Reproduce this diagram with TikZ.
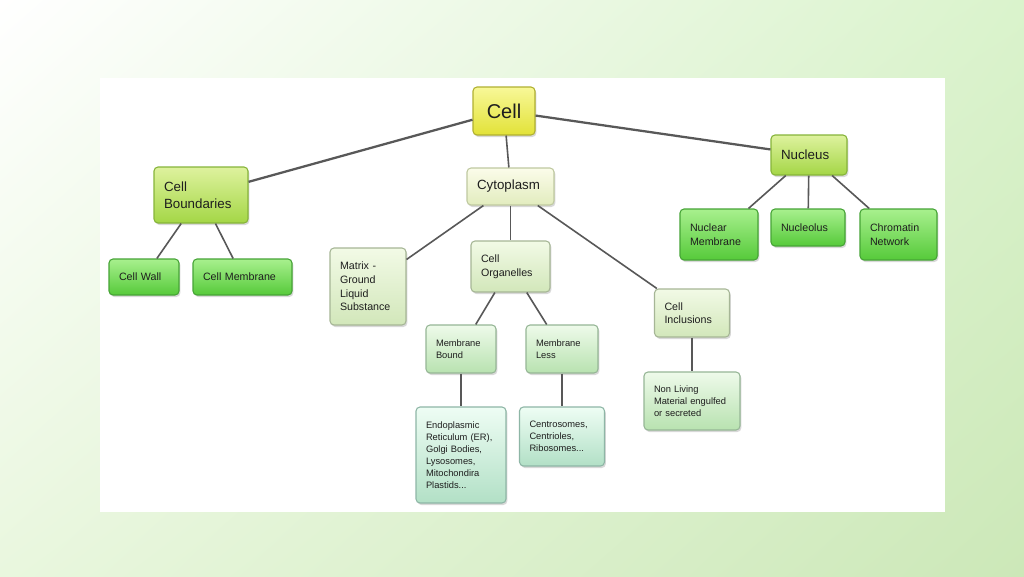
\documentclass[tikz,border=0pt]{standalone}
\usepackage{fontspec}
\setmainfont{Liberation Sans}
\usetikzlibrary{shadows,shadings}
\definecolor{txt}{HTML}{1E1E1E}
\definecolor{edge}{HTML}{585858}
\definecolor{bgA}{HTML}{FFFFFF}
\definecolor{bgB}{HTML}{DAF3CC}
\definecolor{bgC}{HTML}{E9F7DE}
\definecolor{bgD}{HTML}{CCE8B8}
\definecolor{yelT}{HTML}{F8F898}
\definecolor{yelB}{HTML}{E2E238}
\definecolor{yelD}{HTML}{B0B030}
\definecolor{ygT}{HTML}{DEF29E}
\definecolor{ygB}{HTML}{A4D646}
\definecolor{ygD}{HTML}{86B43A}
\definecolor{cyT}{HTML}{FBFCEA}
\definecolor{cyB}{HTML}{E2ECBE}
\definecolor{cyD}{HTML}{BFC9A0}
\definecolor{brT}{HTML}{A8F08E}
\definecolor{brB}{HTML}{56CA3A}
\definecolor{brD}{HTML}{46A436}
\definecolor{pgT}{HTML}{F2FAE6}
\definecolor{pgB}{HTML}{D2E7BA}
\definecolor{pgD}{HTML}{A6B696}
\definecolor{mgT}{HTML}{EEFAEA}
\definecolor{mgB}{HTML}{B8E2B0}
\definecolor{mgD}{HTML}{96B696}
\definecolor{mnT}{HTML}{EEFDF4}
\definecolor{mnB}{HTML}{B2E0C6}
\definecolor{mnD}{HTML}{8EB6A6}
\tikzset{
  bx/.style={rounded corners=3pt, draw, line width=0.8pt, align=left,
    inner xsep=7.5pt, inner ysep=0pt, text=txt,
    drop shadow={shadow xshift=1pt, shadow yshift=-1.5pt, opacity=0.3}},
  yel/.style={bx, top color=yelT, bottom color=yelB, draw=yelD},
  yg/.style={bx, top color=ygT, bottom color=ygB, draw=ygD},
  cy/.style={bx, top color=cyT, bottom color=cyB, draw=cyD},
  br/.style={bx, top color=brT, bottom color=brB, draw=brD},
  pg/.style={bx, top color=pgT, bottom color=pgB, draw=pgD},
  mg/.style={bx, top color=mgT, bottom color=mgB, draw=mgD},
  mn/.style={bx, top color=mnT, bottom color=mnB, draw=mnD},
  fa/.style={font=\fontsize{10pt}{12.75pt}\selectfont},
  fb/.style={font=\fontsize{8pt}{10.2pt}\selectfont},
  fc/.style={font=\fontsize{7pt}{9pt}\selectfont},
  link/.style={draw=edge, line width=1.2pt},
  mainlink/.style={draw=edge, line width=1.7pt}
}
\begin{document}
\begin{tikzpicture}[x=0.75pt,y=-0.75pt]
\useasboundingbox (0,0) rectangle (1024,576);
\shade[upper left=bgA, upper right=bgB, lower left=bgC, lower right=bgD] (0,0) rectangle (1024,576);
\fill[white] (100,78) rectangle (945,512);

\node[yel, align=center, inner xsep=0pt, minimum width=46.5pt, minimum height=36pt,
  font=\fontsize{15pt}{18pt}\selectfont] (cell) at (504,111) {Cell};
\node[yg, fa, text width=55.5pt, minimum height=42pt] (cb) at (201,195) {Cell\\Boundaries};
\node[cy, fa, text width=50.25pt, minimum height=27.75pt] (cyto) at (510.5,186.5) {Cytoplasm};
\node[yg, fa, text width=42pt, minimum height=30pt] (nuc) at (809,155) {Nucleus};

\node[br, fb, text width=37.5pt, minimum height=27pt] (wall) at (144,277) {Cell Wall};
\node[br, fb, text width=59.25pt, minimum height=27pt] (cmem) at (242.5,277) {Cell Membrane};

\node[pg, fb, text width=42pt, minimum height=57.75pt] (matrix) at (368,286.5) {Matrix -\\Ground\\Liquid\\Substance};
\node[pg, fb, text width=44.25pt, minimum height=38.25pt] (org) at (510.5,266.5) {Cell\\Organelles};
\node[pg, fb, text width=41.25pt, minimum height=36pt] (incl) at (692,313) {Cell\\Inclusions};

\node[br, fb, text width=43.5pt, minimum height=38.25pt] (nmem) at (719,234.5) {Nuclear\\Membrane};
\node[br, fb, text width=40.5pt, minimum height=27.75pt] (nucl) at (808,227.5) {Nucleolus};
\node[br, fb, text width=42.75pt, minimum height=38.25pt] (chrom) at (898.5,234.5) {Chromatin\\Network};

\node[mg, fc, text width=37.5pt, minimum height=36pt] (mb) at (461,349) {Membrane\\Bound};
\node[mg, fc, text width=39pt, minimum height=36pt] (ml) at (562,349) {Membrane\\Less};
\node[mg, fc, text width=57pt, minimum height=43.5pt] (nonliv) at (692,401) {Non Living\\Material engulfed\\or secreted};

\node[mn, fc, text width=52.5pt, minimum height=72pt] (endo) at (461,455) {Endoplasmic\\Reticulum (ER),\\Golgi Bodies,\\Lysosomes,\\Mitochondira\\Plastids...};
\node[mn, fc, text width=48.75pt, minimum height=44.25pt] (centro) at (562,436.5) {Centrosomes,\\Centrioles,\\Ribosomes...};

\draw[mainlink] (cell) -- (cb);
\draw[mainlink] (cell) -- (nuc);
\draw[link] (cell) -- (cyto);
\draw[link] (cb) -- (wall);
\draw[link] (cb) -- (cmem);
\draw[link] (cyto) -- (matrix);
\draw[link] (cyto) -- (org);
\draw[link] (cyto) -- (incl);
\draw[link] (nuc) -- (nmem);
\draw[link] (nuc) -- (nucl);
\draw[link] (nuc) -- (chrom);
\draw[link] (org) -- (mb);
\draw[link] (org) -- (ml);
\draw[link] (mb) -- (endo);
\draw[link] (ml) -- (centro);
\draw[link] (incl) -- (nonliv);
\end{tikzpicture}
\end{document}
